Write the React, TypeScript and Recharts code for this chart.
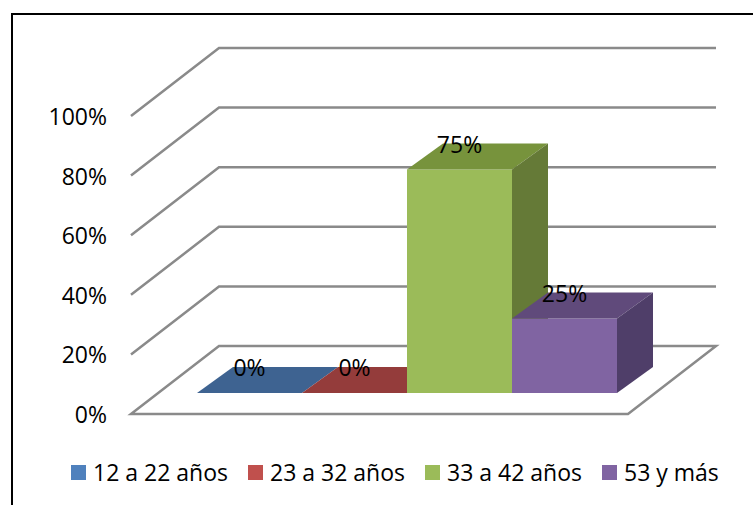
import { BarChart, Bar, XAxis, YAxis, CartesianGrid, Legend, LabelList } from "recharts";

const categories = ["Edad"];
const seriesNames = ["12 a 22 años", "23 a 32 años", "33 a 42 años", "53 y más"];
const seriesValues = [0, 0, 0.75, 0.25];
const yTicks = [0, 0.2, 0.4, 0.6, 0.8, 1];

const frontColors = ["#4F81BD", "#C0504D", "#9BBB59", "#8064A2"];
const topColors = ["#3E6391", "#943C3B", "#77933C", "#604A7B"];
const sideColors = ["#344F74", "#7A302F", "#657A37", "#4F3E69"];

const data = categories.map((name) => {
  const row: Record<string, string | number> = { name };
  seriesNames.forEach((_, i) => {
    row[`s${i}`] = seriesValues[i];
  });
  return row;
});

// perspective offsets (px)
const BAR_DX = 36;
const BAR_DY = -26;
const BACK_DX = 61;
const BACK_DY = -47;
const FRONT_DX = -27;
const FRONT_DY = 21;
const BASE_Y = 393;
const LABEL_X = 107;

const FONT = "'Open Sans', sans-serif";
const GRID = "#8a8a8a";

const pct = (v: number) => `${Math.round(v * 100)}%`;

function GridLine3D(props: any) {
  const { x1, x2, y1 } = props;
  const by = y1 + BACK_DY;
  const fy = y1 + FRONT_DY;
  const bl = x1 + BACK_DX;
  const br = x2 + BACK_DX;
  const fl = x1 + FRONT_DX;
  const fr = x2 + FRONT_DX;
  const isFloor = y1 >= BASE_Y - 1;
  const d = isFloor
    ? `M${fl},${fy} L${bl},${by} L${br},${by} L${fr},${fy} Z`
    : `M${fl},${fy} L${bl},${by} L${br},${by}`;
  return <path d={d} fill="none" stroke={GRID} strokeWidth={2.5} strokeLinejoin="miter" />;
}

function YTick(props: any) {
  const { y, payload } = props;
  return (
    <text
      x={LABEL_X}
      y={y + FRONT_DY}
      textAnchor="end"
      dominantBaseline="central"
      fontFamily={FONT}
      fontSize={23}
      fill="#000"
    >
      {pct(payload.value)}
    </text>
  );
}

function Box3D(props: any) {
  const { x, y, width, height, si } = props;
  const x2 = x + width;
  const yb = y + height;
  return (
    <g>
      {height > 0 && <rect x={x} y={y} width={width} height={height} fill={frontColors[si]} />}
      <polygon
        points={`${x},${y} ${x + BAR_DX},${y + BAR_DY} ${x2 + BAR_DX},${y + BAR_DY} ${x2},${y}`}
        fill={topColors[si]}
      />
      {height > 0 && (
        <polygon
          points={`${x2},${y} ${x2 + BAR_DX},${y + BAR_DY} ${x2 + BAR_DX},${yb + BAR_DY} ${x2},${yb}`}
          fill={sideColors[si]}
        />
      )}
    </g>
  );
}

function BarValueLabel(props: any) {
  const vb = props.viewBox ?? props;
  const { x, y, width } = vb;
  return (
    <text
      x={x + width / 2}
      y={y + BAR_DY}
      textAnchor="middle"
      dominantBaseline="central"
      fontFamily={FONT}
      fontSize={23}
      fill="#000"
    >
      {pct(Number(props.value))}
    </text>
  );
}

function LegendContent(props: any) {
  const { payload } = props;
  return (
    <div style={{ display: "flex", alignItems: "center", height: 30 }}>
      {(payload ?? []).map((p: any, i: number) => (
        <div
          key={i}
          style={{ display: "flex", alignItems: "center", marginRight: 20, whiteSpace: "nowrap" }}
        >
          <span
            style={{ width: 15, height: 15, background: p.color, marginRight: 7, display: "inline-block" }}
          />
          <span style={{ fontFamily: FONT, fontSize: 23, color: "#000", lineHeight: "30px" }}>
            {p.value}
          </span>
        </div>
      ))}
    </div>
  );
}

export default function App() {
  return (
    <div
      style={{
        position: "fixed",
        left: 0,
        top: 0,
        width: 753,
        height: 505,
        overflow: "hidden",
        background: "#fff",
      }}
    >
      <div
        style={{
          position: "absolute",
          left: 11,
          top: 13,
          width: 800,
          height: 600,
          border: "2px solid #000",
        }}
      />
      <div style={{ position: "absolute", left: 0, top: 0 }}>
        <BarChart
          width={753}
          height={505}
          data={data}
          margin={{ top: 95, right: 98, bottom: 112, left: 157 }}
          barCategoryGap={39}
          barGap={0}
        >
          <CartesianGrid vertical={false} horizontal={(p: any) => <GridLine3D key={p.key} {...p} />} />
          <XAxis dataKey="name" hide />
          <YAxis
            type="number"
            domain={[0, 1]}
            ticks={yTicks}
            width={1}
            axisLine={false}
            tickLine={false}
            tick={<YTick />}
          />
          <Legend
            layout="horizontal"
            verticalAlign="middle"
            align="center"
            wrapperStyle={{ top: 457, left: 71, width: 700 }}
            content={<LegendContent />}
          />
          {seriesNames.map((name, i) => (
            <Bar
              key={name}
              dataKey={`s${i}`}
              name={name}
              fill={frontColors[i]}
              isAnimationActive={false}
              shape={(p: any) => <Box3D {...p} si={i} />}
            >
              <LabelList dataKey={`s${i}`} content={<BarValueLabel />} />
            </Bar>
          ))}
        </BarChart>
      </div>
    </div>
  );
}
